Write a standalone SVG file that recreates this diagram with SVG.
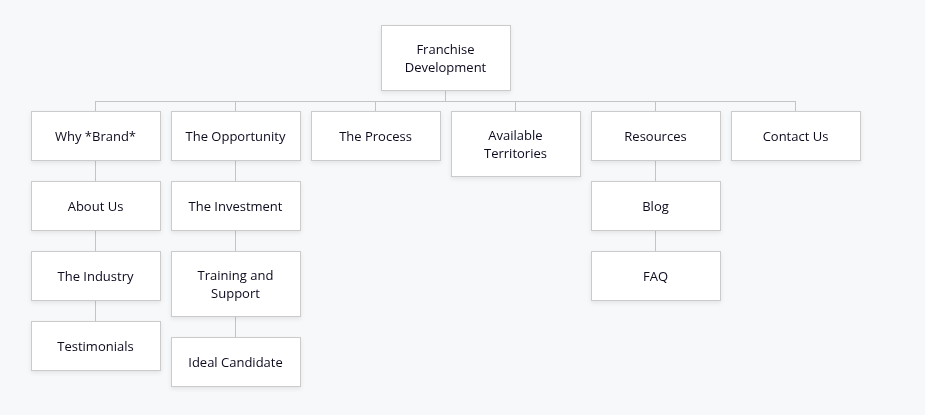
<svg xmlns="http://www.w3.org/2000/svg" width="925" height="415" viewBox="0 0 925 415">
<style>
.b{fill:#fff;stroke:#cbcbcb;stroke-width:1}
.t{font-family:"Open Sans",sans-serif;font-size:13px;fill:#0a0a1e;text-anchor:middle}
.c line{stroke:#c4c4c4;stroke-width:1}
</style>
<defs><filter id="s" x="-10%" y="-10%" width="120%" height="130%"><feDropShadow dx="0" dy="2" stdDeviation="2" flood-color="#000" flood-opacity="0.08"/></filter></defs>
<rect width="925" height="415" fill="#f7f8fa"/>
<g class="c">
<line x1="445.5" y1="90" x2="445.5" y2="101.5"/>
<line x1="95.5" y1="101.5" x2="795.5" y2="101.5"/>
<line x1="95.5" y1="101" x2="95.5" y2="111"/><line x1="235.5" y1="101" x2="235.5" y2="111"/><line x1="375.5" y1="101" x2="375.5" y2="111"/><line x1="515.5" y1="101" x2="515.5" y2="111"/><line x1="655.5" y1="101" x2="655.5" y2="111"/><line x1="795.5" y1="101" x2="795.5" y2="111"/>
<line x1="95.5" y1="160" x2="95.5" y2="321"/>
<line x1="235.5" y1="160" x2="235.5" y2="337"/>
<line x1="655.5" y1="160" x2="655.5" y2="251"/>
</g>
<g filter="url(#s)">
<g id="root"><rect class="b" x="381.5" y="25.5" width="129" height="65"/><text class="t" x="445.5" y="54">Franchise</text><text class="t" x="445.5" y="72">Development</text></g>
<g id="why"><rect class="b" x="31.5" y="111.5" width="129" height="49"/><text class="t" x="95.5" y="141">Why *Brand*</text></g>
<g id="about"><rect class="b" x="31.5" y="181.5" width="129" height="49"/><text class="t" x="95.5" y="211">About Us</text></g>
<g id="industry"><rect class="b" x="31.5" y="251.5" width="129" height="49"/><text class="t" x="95.5" y="281">The Industry</text></g>
<g id="test"><rect class="b" x="31.5" y="321.5" width="129" height="49"/><text class="t" x="95.5" y="351">Testimonials</text></g>
<g id="opp"><rect class="b" x="171.5" y="111.5" width="129" height="49"/><text class="t" x="235.5" y="141">The Opportunity</text></g>
<g id="inv"><rect class="b" x="171.5" y="181.5" width="129" height="49"/><text class="t" x="235.5" y="211">The Investment</text></g>
<g id="train"><rect class="b" x="171.5" y="251.5" width="129" height="65"/><text class="t" x="235.5" y="280">Training and</text><text class="t" x="235.5" y="298">Support</text></g>
<g id="ideal"><rect class="b" x="171.5" y="337.5" width="129" height="49"/><text class="t" x="235.5" y="367">Ideal Candidate</text></g>
<g id="process"><rect class="b" x="311.5" y="111.5" width="129" height="49"/><text class="t" x="375.5" y="141">The Process</text></g>
<g id="terr"><rect class="b" x="451.5" y="111.5" width="129" height="65"/><text class="t" x="515.5" y="140">Available</text><text class="t" x="515.5" y="158">Territories</text></g>
<g id="res"><rect class="b" x="591.5" y="111.5" width="129" height="49"/><text class="t" x="655.5" y="141">Resources</text></g>
<g id="blog"><rect class="b" x="591.5" y="181.5" width="129" height="49"/><text class="t" x="655.5" y="211">Blog</text></g>
<g id="faq"><rect class="b" x="591.5" y="251.5" width="129" height="49"/><text class="t" x="655.5" y="281">FAQ</text></g>
<g id="contact"><rect class="b" x="731.5" y="111.5" width="129" height="49"/><text class="t" x="795.5" y="141">Contact Us</text></g>
</g>
</svg>
